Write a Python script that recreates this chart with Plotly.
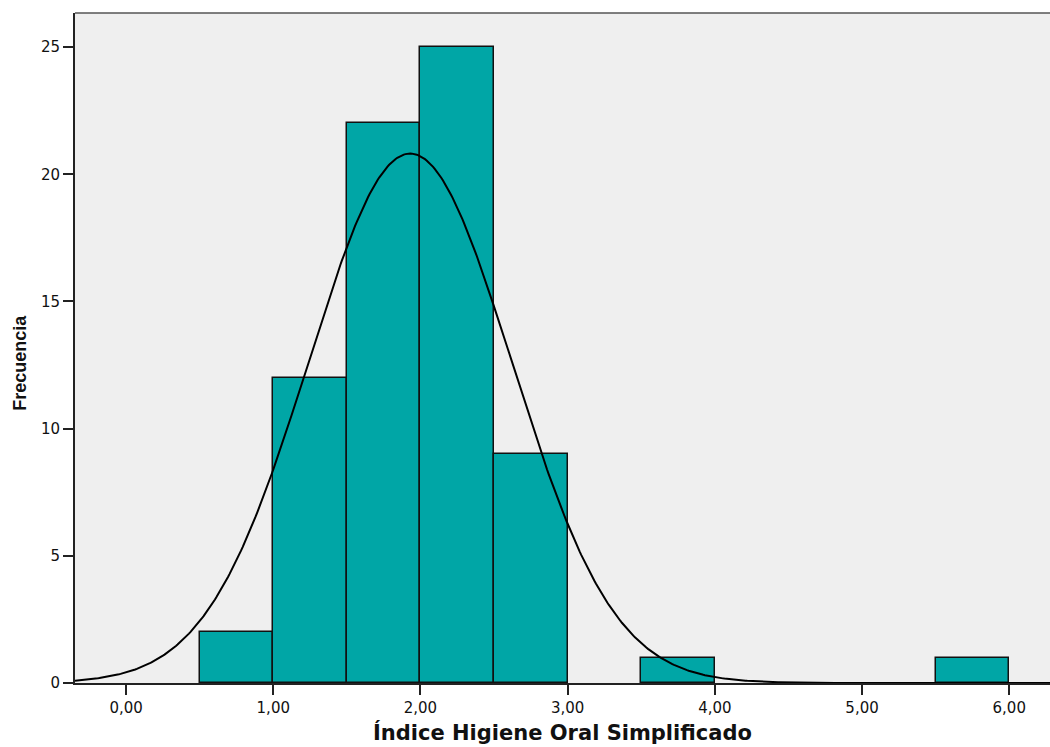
import numpy as np
import plotly.graph_objects as go

# Histogram data (bin centers, counts)
bin_centers = [0.75, 1.25, 1.75, 2.25, 2.75, 3.75, 5.75]
counts = [2, 12, 22, 25, 9, 1, 1]
bin_width = 0.5

# Normal curve parameters (fitted)
mean_val = 1.93
sd_val = 0.69
n_total = sum(counts)

x_ticks = [0, 1, 2, 3, 4, 5, 6]
x_tick_labels = ["0,00", "1,00", "2,00", "3,00", "4,00", "5,00", "6,00"]
y_ticks = [0, 5, 10, 15, 20, 25]
y_tick_labels = ["0", "5", "10", "15", "20", "25"]

x_range = [-0.347, 6.277]
y_range = [0, 26.34]

xc = np.linspace(x_range[0], x_range[1], 600)
yc = n_total * bin_width / (sd_val * np.sqrt(2 * np.pi)) * np.exp(-((xc - mean_val) ** 2) / (2 * sd_val ** 2))

fig = go.Figure()
fig.add_trace(go.Bar(
    x=bin_centers, y=counts, width=bin_width,
    marker=dict(color="#00a6a6", line=dict(color="#111111", width=1.5)),
    hoverinfo="x+y", showlegend=False,
))
fig.add_trace(go.Scatter(
    x=xc, y=yc, mode="lines",
    line=dict(color="black", width=2), showlegend=False, hoverinfo="skip",
))

tick_font = "DejaVu Sans, Verdana, sans-serif"

fig.update_layout(
    width=1050, height=747,
    margin=dict(l=75, r=0, t=13, b=64),
    plot_bgcolor="#efefef", paper_bgcolor="white",
    bargap=0,
    font=dict(family=tick_font, size=15, color="#111111"),
    xaxis=dict(
        range=x_range, tickvals=x_ticks, ticktext=x_tick_labels,
        showgrid=False, zeroline=False,
        showline=True, linecolor="#222222", linewidth=1.5,
        ticks="outside", ticklen=10, tickwidth=2, tickcolor="#222222",
        tickfont=dict(size=15, family=tick_font, color="#111111"),
    ),
    yaxis=dict(
        range=y_range, tickvals=y_ticks, ticktext=y_tick_labels,
        showgrid=False, zeroline=False,
        showline=True, linecolor="#222222", linewidth=2,
        ticks="outside", ticklen=10, tickwidth=2, tickcolor="#222222",
        tickfont=dict(size=15, family=tick_font, color="#111111"),
    ),
    shapes=[dict(type="line", xref="paper", yref="paper", x0=0, x1=1, y0=1, y1=1,
                 line=dict(color="#555555", width=1.5))],
    annotations=[
        dict(text="<b>Índice Higiene Oral Simplificado</b>", xref="paper", yref="paper",
             x=0.5, y=-0.0746, xanchor="center", yanchor="middle", showarrow=False,
             font=dict(size=21, family="DejaVu Sans, Verdana, sans-serif", color="#111111")),
        dict(text="<b>Frecuencia</b>", xref="paper", yref="paper",
             x=-0.0564, xanchor="center", y=0.478, yanchor="middle", textangle=-90, showarrow=False,
             font=dict(size=18, family="Liberation Sans, Arial, sans-serif", color="#111111")),
    ],
)

fig.write_html(
    "out.html",
    config={"displayModeBar": False},
    post_script="document.body.style.margin='0';document.body.style.padding='0';document.body.style.overflow='hidden';",
)
